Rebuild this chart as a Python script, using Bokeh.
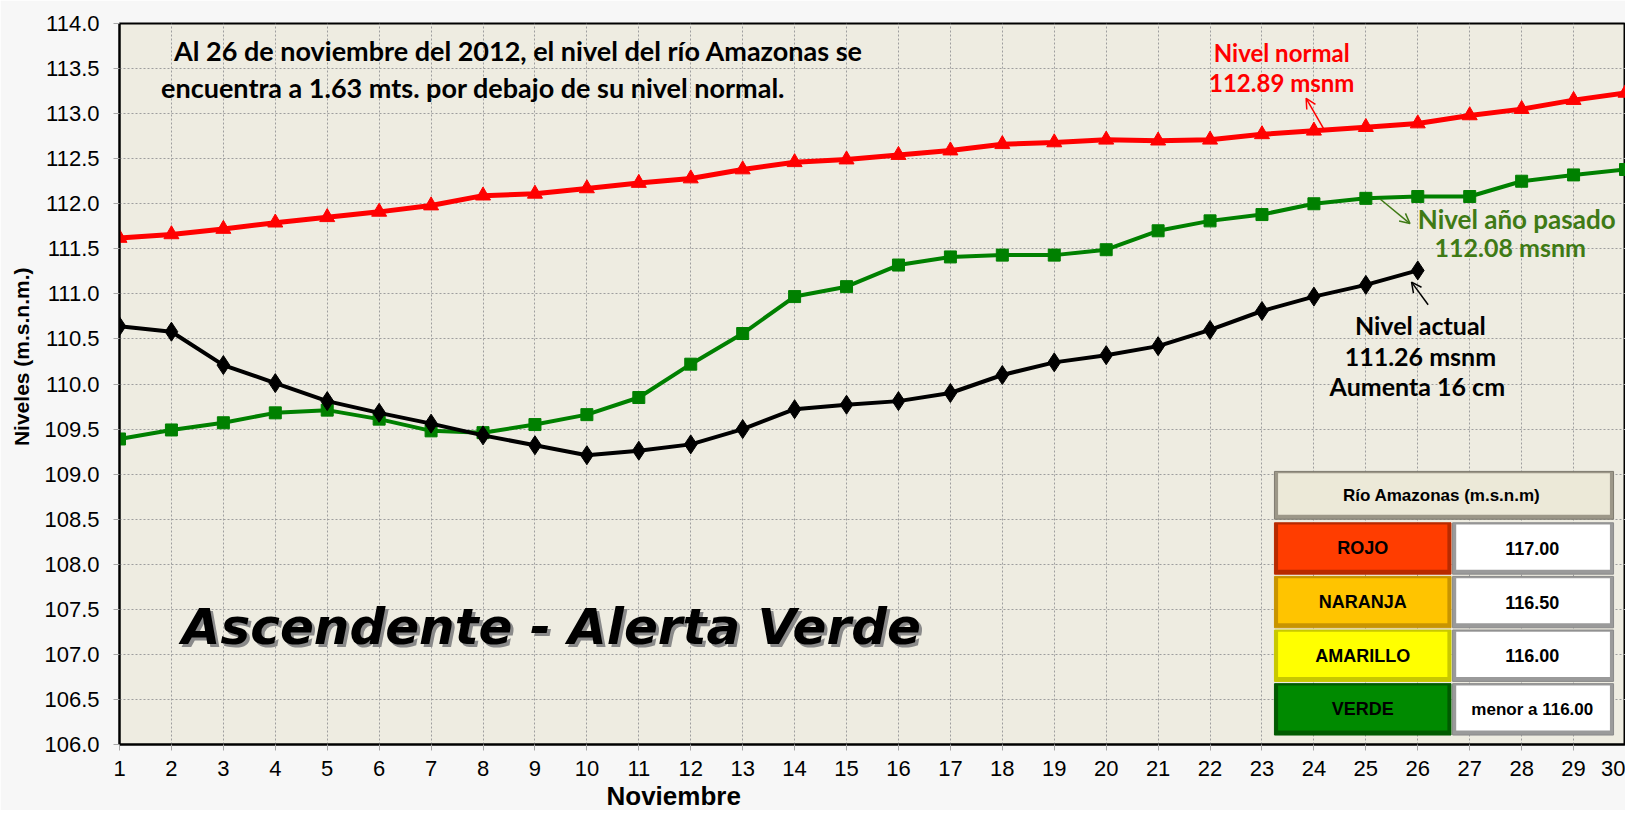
from bokeh.plotting import figure
from bokeh.models import Label, Arrow, OpenHead, FixedTicker, NumeralTickFormatter, Range1d, ColumnDataSource, Title
from bokeh.embed import file_html
from bokeh.resources import INLINE

# ---------------- data ----------------
days = list(range(1, 31))
nivel_normal = [111.62, 111.66, 111.72, 111.79, 111.85, 111.91, 111.98, 112.09, 112.11, 112.17,
                112.23, 112.28, 112.38, 112.46, 112.49, 112.54, 112.59, 112.66, 112.68, 112.71,
                112.70, 112.71, 112.77, 112.81, 112.85, 112.89, 112.98, 113.05, 113.15, 113.23]
nivel_pasado = [109.39, 109.49, 109.57, 109.68, 109.71, 109.61, 109.48, 109.46, 109.55, 109.66,
                109.85, 110.22, 110.56, 110.97, 111.08, 111.32, 111.41, 111.43, 111.43, 111.49,
                111.70, 111.81, 111.88, 112.00, 112.06, 112.08, 112.08, 112.25, 112.32, 112.38]
dias_actual = list(range(1, 27))
nivel_actual = [110.64, 110.58, 110.21, 110.01, 109.81, 109.68, 109.56, 109.43, 109.32, 109.21,
                109.26, 109.33, 109.50, 109.72, 109.77, 109.81, 109.90, 110.10, 110.24, 110.32,
                110.42, 110.60, 110.81, 110.97, 111.10, 111.26]
y_ticks = [106.0, 106.5, 107.0, 107.5, 108.0, 108.5, 109.0, 109.5, 110.0,
           110.5, 111.0, 111.5, 112.0, 112.5, 113.0, 113.5, 114.0]

alert_names = ["ROJO", "NARANJA", "AMARILLO", "VERDE"]
alert_values = ["117.00", "116.50", "116.00", "menor a 116.00"]
alert_colors = ["#FF3D00", "#FFC400", "#FFFF00", "#008A00"]
alert_shades = ["#B82A00", "#C89400", "#C8C800", "#005A00"]
table_title = "Río  Amazonas (m.s.n.m)"

# ---------------- figure ----------------
p = figure(width=1625, height=810, output_backend="svg", toolbar_location=None,
           x_range=Range1d(1, 30), y_range=Range1d(106, 114),
           min_border_left=118, min_border_right=0, min_border_top=23, min_border_bottom=65)
p.background_fill_color = "#EEECE1"
p.border_fill_color = "#F7F7F7"
p.outline_line_color = "black"
p.outline_line_width = 2

TICK_FONT = "Liberation Sans"
p.xaxis.ticker = FixedTicker(ticks=days)
p.yaxis.ticker = FixedTicker(ticks=y_ticks)
p.yaxis.formatter = NumeralTickFormatter(format="0.0")
for ax in (p.xaxis, p.yaxis):
    ax.axis_line_color = "black"
    ax.axis_line_width = 2
    ax.major_tick_line_color = "#A8A8A8"
    ax.major_tick_out = 6
    ax.major_tick_in = 0
    ax.minor_tick_line_color = None
    ax.major_label_text_font = TICK_FONT
    ax.major_label_text_font_size = "22px"
    ax.major_label_text_color = "black"
p.xaxis.major_label_standoff = 10
p.yaxis.major_label_standoff = 14

# axis titles placed off-centre like the original
p.add_layout(Title(text="Noviembre", align="left", offset=487, standoff=0,
                   text_font=TICK_FONT, text_font_style="bold", text_font_size="26px",
                   text_color="black"), "below")
p.add_layout(Title(text="Niveles (m.s.n.m.)", align="right", offset=244, standoff=16,
                   vertical_align="middle",
                   text_font=TICK_FONT, text_font_style="bold", text_font_size="21px",
                   text_color="black"), "left")

for g in (p.xgrid, p.ygrid):
    g.grid_line_color = "#9E9E9E"
    g.grid_line_dash = "2 2"
    g.grid_line_width = 1
p.xgrid.ticker = FixedTicker(ticks=days)
p.ygrid.ticker = FixedTicker(ticks=y_ticks)

# ---------------- series ----------------
p.line(days, nivel_normal, line_color="#FF0000", line_width=5)
p.scatter(days, nivel_normal, marker="triangle", size=15, fill_color="#FF0000", line_color="#FF0000")
p.line(days, nivel_pasado, line_color="#008000", line_width=4)
p.scatter(days, nivel_pasado, marker="square", size=12, fill_color="#008000", line_color="#008000")
p.line(dias_actual, nivel_actual, line_color="black", line_width=4)
p.scatter(dias_actual, nivel_actual, marker="diamond", size=19, fill_color="black", line_color="black")

# ---------------- annotations ----------------
ANN_FONT = "Lato"
def lab(x, y, text, color="black", size="23px", align="left", font=ANN_FONT, style="bold"):
    p.add_layout(Label(x=x, y=y, text=text, text_color=color, text_font_size=size,
                       text_align=align, text_baseline="middle", text_font=font,
                       text_font_style=style))

lab(2.05, 113.70, "Al  26 de noviembre del 2012, el nivel del río Amazonas se", size="27px")
lab(1.80, 113.29, "encuentra  a 1.63 mts. por debajo de su nivel normal.", size="27px")

lab(23.38, 113.68, "Nivel normal", color="#FF0000", size="24px", align="center")
lab(23.38, 113.35, "112.89 msnm", color="#FF0000", size="24px", align="center")
p.add_layout(Arrow(x_start=24.2, y_start=112.82, x_end=23.85, y_end=113.17,
                   line_color="#FF0000", line_width=1.5,
                   end=OpenHead(size=10, line_color="#FF0000", line_width=1.5)))

lab(26.0, 111.83, "Nivel  año pasado", color="#3F7A15", size="26px", align="left")
lab(27.78, 111.52, "112.08 msnm", color="#3F7A15", size="25px", align="center")
p.add_layout(Arrow(x_start=25.28, y_start=112.05, x_end=25.85, y_end=111.78,
                   line_color="#3F7A15", line_width=1.5,
                   end=OpenHead(size=10, line_color="#3F7A15", line_width=1.5)))

lab(26.05, 110.66, "Nivel actual", size="25px", align="center")
lab(26.05, 110.31, "111.26 msnm", size="25px", align="center")
lab(26.05, 109.98, "Aumenta  16 cm", size="25px", align="center")
p.add_layout(Arrow(x_start=26.2, y_start=110.88, x_end=25.88, y_end=111.13,
                   line_color="black", line_width=1.5,
                   end=OpenHead(size=10, line_color="black", line_width=1.5)))

# big status text with a soft shadow
for col, off in (("#8A8A8A", 3), ("black", 0)):
    p.add_layout(Label(x=2.2, y=107.30, text="Ascendente - Alerta Verde", text_color=col,
                       text_font="DejaVu Sans", text_font_style="bold italic", text_font_size="50px",
                       text_baseline="middle", x_offset=off, y_offset=-off))

# ---------------- alert table ----------------
x0, xm, x1 = 23.24, 26.64, 29.77
dx, dy = 0.07, 0.05
p.quad(left=[x0], right=[x1], top=[109.03], bottom=[108.50], fill_color="#9C9788", line_color="#7F7B70")
p.quad(left=[x0 + dx], right=[x1 - dx], top=[109.03 - 0.02], bottom=[108.50 + dy],
       fill_color="#ECE9D8", line_color=None)
lab((x0 + x1) / 2, 108.765, table_title, size="17px", align="center", font=TICK_FONT)

tops = [108.46 - i * 0.595 for i in range(len(alert_names))]
bots = [t - 0.57 for t in tops]
src = ColumnDataSource(dict(top=tops, bottom=bots, color=alert_colors, shade=alert_shades))
p.quad(left=x0, right=xm, top="top", bottom="bottom", fill_color="shade", line_color="shade", source=src)
p.quad(left=x0 + dx, right=xm - dx, top=[t - 0.02 for t in tops], bottom=[b + dy for b in bots],
       fill_color=alert_colors, line_color=None)
p.quad(left=xm + 0.03, right=x1, top=tops, bottom=bots, fill_color="#9A9A9A", line_color="#8A8A8A")
p.quad(left=xm + 0.03 + dx, right=x1 - dx, top=[t - 0.02 for t in tops], bottom=[b + dy for b in bots],
       fill_color="white", line_color=None)
for name, val, t, b in zip(alert_names, alert_values, tops, bots):
    lab((x0 + xm) / 2, (t + b) / 2, name, size="18px", align="center", font=TICK_FONT)
    lab((xm + x1) / 2, (t + b) / 2, val, size="18px" if val[0].isdigit() else "17px",
        align="center", font=TICK_FONT)

open("out.html", "w").write(file_html(p, INLINE))
